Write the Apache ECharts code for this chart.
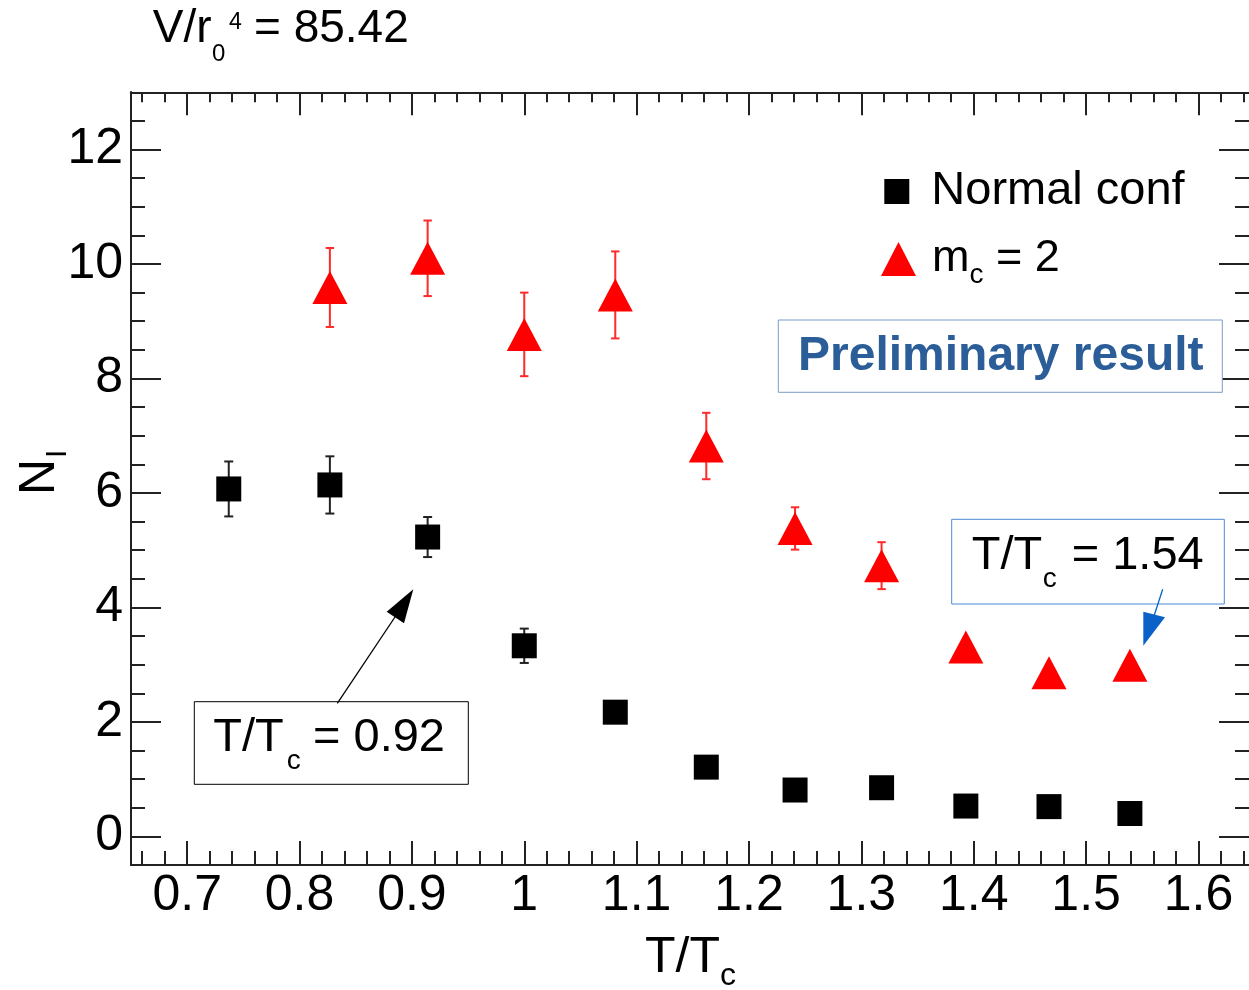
<!DOCTYPE html>
<html><head><meta charset="utf-8">
<script src="https://cdn.jsdelivr.net/npm/echarts@6/dist/echarts.min.js"></script>
<style>html,body{margin:0;padding:0;background:#fff}#c{width:1249px;height:990px}</style>
</head><body><div id="c"></div>
<script>
// ---- data ----
const tRatioNormal = [0.737, 0.827, 0.914, 1.000, 1.081, 1.162, 1.241, 1.318, 1.393, 1.467, 1.539];
const nNormal      = [6.07, 6.14, 5.23, 3.33, 2.17, 1.21, 0.81, 0.85, 0.53, 0.52, 0.40];
const errNormal    = [0.48, 0.50, 0.35, 0.30, 0.10, 0.10, 0.10, 0.10, 0.10, 0.10, 0.10];
const tRatioMc2    = [0.827, 0.914, 1.000, 1.081, 1.162, 1.241, 1.318, 1.393, 1.467, 1.539];
const nMc2         = [9.59, 10.10, 8.77, 9.46, 6.82, 5.38, 4.73, 3.31, 2.86, 2.99];
const errMc2       = [0.69, 0.66, 0.73, 0.76, 0.58, 0.37, 0.41, 0.10, 0.10, 0.10];
const xMajor       = [0.7, 0.8, 0.9, 1.0, 1.1, 1.2, 1.3, 1.4, 1.5, 1.6];
const xTickLabels  = ['0.7', '0.8', '0.9', '1', '1.1', '1.2', '1.3', '1.4', '1.5', '1.6'];
const yMajor       = [0, 2, 4, 6, 8, 10, 12];
const yTickLabels  = ['0', '2', '4', '6', '8', '10', '12'];
const seriesNames  = ['Normal conf', 'm_c = 2'];

// minor tick positions (axis decoration)
const xMinor = [];
for (let i = 66; i <= 164; i += 2) { if (i % 10 !== 0) xMinor.push(i / 100); }
const yMinor = [];
for (let i = 1; i <= 25; i++) { if (i % 4 !== 0) yMinor.push(i / 2); }

const FONT = "'Liberation Sans', Arial, Helvetica, sans-serif";
const X_MIN = 0.65, X_MAX = 1.645, Y_MIN = -0.5, Y_MAX = 13;
const frame = { color: '#222', width: 2 };

function lbl(values, labels) {
  return v => { const i = values.findIndex(m => Math.abs(m - v) < 1e-6); return i >= 0 ? labels[i] : ''; };
}
function xAx(pos, ticks, len, withLabel) {
  return {
    type: 'value', position: pos, min: X_MIN, max: X_MAX,
    splitLine: { show: false },
    axisLine: { show: true, onZero: false, lineStyle: frame },
    axisTick: { show: true, inside: true, length: len, customValues: ticks, lineStyle: frame },
    axisLabel: withLabel ? { show: true, customValues: xMajor, formatter: lbl(xMajor, xTickLabels),
      fontSize: 50, color: '#000', fontFamily: FONT, margin: 6 } : { show: false }
  };
}
function yAx(pos, ticks, len, withLabel, showLine) {
  return {
    type: 'value', position: pos, min: Y_MIN, max: Y_MAX,
    splitLine: { show: false },
    axisLine: { show: showLine, onZero: false, lineStyle: frame },
    axisTick: { show: true, inside: true, length: len, customValues: ticks, lineStyle: frame },
    axisLabel: withLabel ? { show: true, customValues: yMajor, formatter: lbl(yMajor, yTickLabels),
      fontSize: 50, color: '#000', fontFamily: FONT, margin: 8 } : { show: false }
  };
}
function errRender(color, cap, lw) {
  return function (params, api) {
    const x = api.value(0), y = api.value(1), e = api.value(2);
    const top = api.coord([x, y + e]);
    const bot = api.coord([x, y - e]);
    const st = { stroke: color, lineWidth: lw };
    return { type: 'group', children: [
      { type: 'line', shape: { x1: top[0], y1: top[1], x2: bot[0], y2: bot[1] }, style: st },
      { type: 'line', shape: { x1: top[0] - cap, y1: top[1], x2: top[0] + cap, y2: top[1] }, style: st },
      { type: 'line', shape: { x1: bot[0] - cap, y1: bot[1], x2: bot[0] + cap, y2: bot[1] }, style: st }
    ] };
  };
}
function txt(x, baseline, text, size, opts) {
  opts = opts || {};
  return { type: 'text', x: x, y: baseline - 0.35 * size, z: 100, rotation: opts.rotation || 0,
    style: { text: text, fontSize: size, fontFamily: FONT, fontWeight: opts.weight || 'normal',
      fill: opts.color || '#000', align: opts.align || 'left', verticalAlign: 'middle' } };
}

const chart = echarts.init(document.getElementById('c'), null, { renderer: 'canvas' });
chart.setOption({
  animation: false,
  backgroundColor: '#fff',
  grid: { left: 131, top: 92.3, right: 0, height: 772.7 },
  xAxis: [xAx('bottom', xMajor, 24, true), xAx('bottom', xMinor, 14, false),
          xAx('top', xMajor, 23, false), xAx('top', xMinor, 10, false)],
  yAxis: [yAx('left', yMajor, 30, true, true), yAx('left', yMinor, 14, false, true),
          yAx('right', yMajor, 30, false, false), yAx('right', yMinor, 14, false, false)],
  legend: [
    { data: [{ name: seriesNames[0], icon: 'rect' }], left: 884.3, top: 168, itemWidth: 25, itemHeight: 25,
      selectedMode: false, padding: 0,
      formatter: () => '{sp| }{n|Normal conf}',
      textStyle: { color: '#000', rich: { sp: { width: 17, fontSize: 10, lineHeight: 10 },
        n: { fontSize: 47, fontFamily: FONT, color: '#000', lineHeight: 46 } } } },
    { data: [{ name: seriesNames[1], icon: 'triangle' }], left: 881, top: 236.5, itemWidth: 35, itemHeight: 34,
      selectedMode: false, padding: 0,
      formatter: () => '{sp| }{m|m}{sub|c}{m| = 2}',
      textStyle: { color: '#000', rich: {
        sp: { width: 11, fontSize: 10, lineHeight: 10 },
        m: { fontSize: 45, fontFamily: FONT, color: '#000', lineHeight: 60 },
        sub: { fontSize: 28, fontFamily: FONT, color: '#000', lineHeight: 28, verticalAlign: 'bottom' } } } }
  ],
  series: [
    { name: 'errNormal', type: 'custom', xAxisIndex: 0, yAxisIndex: 0, z: 2,
      renderItem: errRender('#222', 4.5, 2), encode: { x: 0, y: 1 },
      data: tRatioNormal.map((x, i) => [x, nNormal[i], errNormal[i]]) },
    { name: 'errMc2', type: 'custom', xAxisIndex: 0, yAxisIndex: 0, z: 2,
      renderItem: errRender('#ff2a2a', 4.2, 2), encode: { x: 0, y: 1 },
      data: tRatioMc2.map((x, i) => [x, nMc2[i], errMc2[i]]) },
    { name: seriesNames[0], type: 'scatter', xAxisIndex: 0, yAxisIndex: 0, z: 5,
      symbol: 'rect', symbolSize: 25, itemStyle: { color: '#000', opacity: 1 },
      data: tRatioNormal.map((x, i) => [x, nNormal[i]]) },
    { name: seriesNames[1], type: 'scatter', xAxisIndex: 0, yAxisIndex: 0, z: 5,
      symbol: 'triangle', symbolSize: [35, 33], itemStyle: { color: '#ff0000', opacity: 1 },
      data: tRatioMc2.map((x, i) => [x, nMc2[i]]) }
  ],
  graphic: [
    // header
    txt(152.7, 45.7, 'V/r', 46),
    txt(212, 63, '0', 24),
    txt(229, 31, '4', 23),
    txt(254, 45.7, '= 85.42', 46),
    // x-axis title
    txt(645, 976, 'T/T', 50),
    txt(720, 987, 'c', 32),
    // y-axis title (rotated)
    { type: 'text', x: 40, y: 495, rotation: Math.PI / 2, z: 100,
      style: { text: 'N', fontSize: 50, fontFamily: FONT, fill: '#000', align: 'left', verticalAlign: 'middle' } },
    { type: 'text', x: 58, y: 458, rotation: Math.PI / 2, z: 100,
      style: { text: 'I', fontSize: 30, fontFamily: FONT, fill: '#000', align: 'left', verticalAlign: 'middle' } },
    // Preliminary result box
    { type: 'rect', z: 90, shape: { x: 778.3, y: 320, width: 444, height: 72.3 },
      style: { fill: '#fff', stroke: '#7b9cc8', lineWidth: 1 } },
    txt(798, 373.3, 'Preliminary result', 48, { weight: 'bold', color: '#2b5e98' }),
    // annotation box 1
    { type: 'rect', z: 90, shape: { x: 194.3, y: 701.7, width: 274, height: 82.6 },
      style: { fill: '#fff', stroke: '#000', lineWidth: 1 } },
    txt(213.3, 754, 'T/T', 47),
    txt(286.7, 770.7, 'c', 28),
    txt(313, 754, '= 0.92', 47),
    { type: 'line', z: 95, shape: { x1: 337.3, y1: 703.3, x2: 397, y2: 614 },
      style: { stroke: '#000', lineWidth: 1.3 } },
    { type: 'polygon', z: 95, shape: { points: [[413.3, 589.3], [386.7, 611.7], [404, 623.3]] },
      style: { fill: '#000' } },
    // annotation box 2
    { type: 'rect', z: 90, shape: { x: 951.7, y: 519.3, width: 272.6, height: 84.7 },
      style: { fill: '#fff', stroke: '#4a8ad4', lineWidth: 1 } },
    txt(971.7, 572.7, 'T/T', 47),
    txt(1042.7, 589, 'c', 28),
    txt(1071.7, 572.7, '= 1.54', 47),
    { type: 'line', z: 95, shape: { x1: 1162.7, y1: 589.3, x2: 1154, y2: 616 },
      style: { stroke: '#0a62c9', lineWidth: 1.3 } },
    { type: 'polygon', z: 95, shape: { points: [[1143.3, 645.7], [1143.3, 611.7], [1165, 617.3]] },
      style: { fill: '#0a62c9' } }
  ]
});
</script>
</body></html>
